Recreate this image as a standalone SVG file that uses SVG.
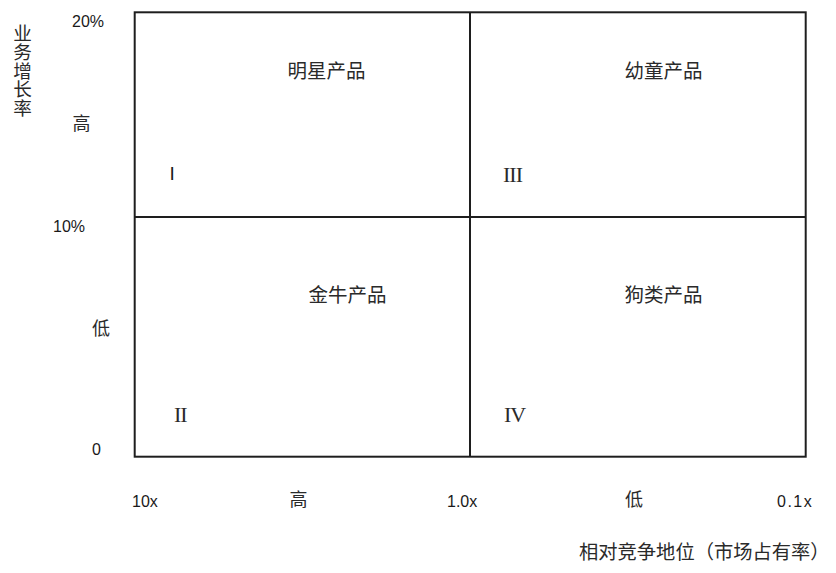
<svg xmlns="http://www.w3.org/2000/svg" width="836" height="573" viewBox="0 0 836 573">
<style>
.bg{fill:#ffffff}
.frame{fill:none;stroke:#1e1e1e;stroke-width:2}
.num{font-family:"Liberation Sans",Arial,sans-serif;font-size:16px;fill:#1a1a1a}
.cn{font-family:"Noto Sans CJK SC","Noto Sans",sans-serif;font-size:18px;fill:#2a2a2a}
.ql{font-family:"Noto Sans CJK SC","Noto Sans",sans-serif;font-size:19.5px;fill:#2a2a2a}
.rn{font-family:"Liberation Serif","Times New Roman",serif;font-size:22px;fill:#2a2a2a;letter-spacing:-1px}
</style>
<rect class="bg" x="0" y="0" width="836" height="573"/>
<g id="connectors">
<rect class="frame" x="134.7" y="12.3" width="671" height="444.4"/>
<line class="frame" x1="470" y1="12.3" x2="470" y2="456.7"/>
<line class="frame" x1="134.7" y1="217" x2="805.7" y2="217"/>
</g>
<g id="y-axis">
<text class="cn" x="22.5" y="24" style="font-size:18.6px" writing-mode="vertical-rl">业务增长率</text>
<text class="num" x="72" y="27">20%</text>
<text class="cn" x="72.5" y="130">高</text>
<text class="num" x="53" y="232">10%</text>
<text class="cn" x="92" y="335">低</text>
<text class="num" x="92" y="455">0</text>
</g>
<g id="x-axis">
<text class="num" x="132" y="507">10x</text>
<text class="cn" x="289.5" y="506">高</text>
<text class="num" x="447" y="507">1.0x</text>
<text class="cn" x="625" y="506">低</text>
<text class="num" x="777" y="507" style="letter-spacing:1.5px">0.1x</text>
<text class="cn" x="579" y="559" style="font-size:19.3px">相对竞争地位（市场占有率）</text>
</g>
<g id="q1">
<text class="ql" x="287.5" y="78">明星产品</text>
<text class="num" x="169.5" y="180" style="font-size:19px">I</text>
</g>
<g id="q3">
<text class="ql" x="624.5" y="78">幼童产品</text>
<text class="rn" x="503" y="182">III</text>
</g>
<g id="q2">
<text class="ql" x="308.5" y="302">金牛产品</text>
<text class="rn" x="174" y="422">II</text>
</g>
<g id="q4">
<text class="ql" x="624.5" y="302">狗类产品</text>
<text class="rn" x="504" y="422">IV</text>
</g>
</svg>
